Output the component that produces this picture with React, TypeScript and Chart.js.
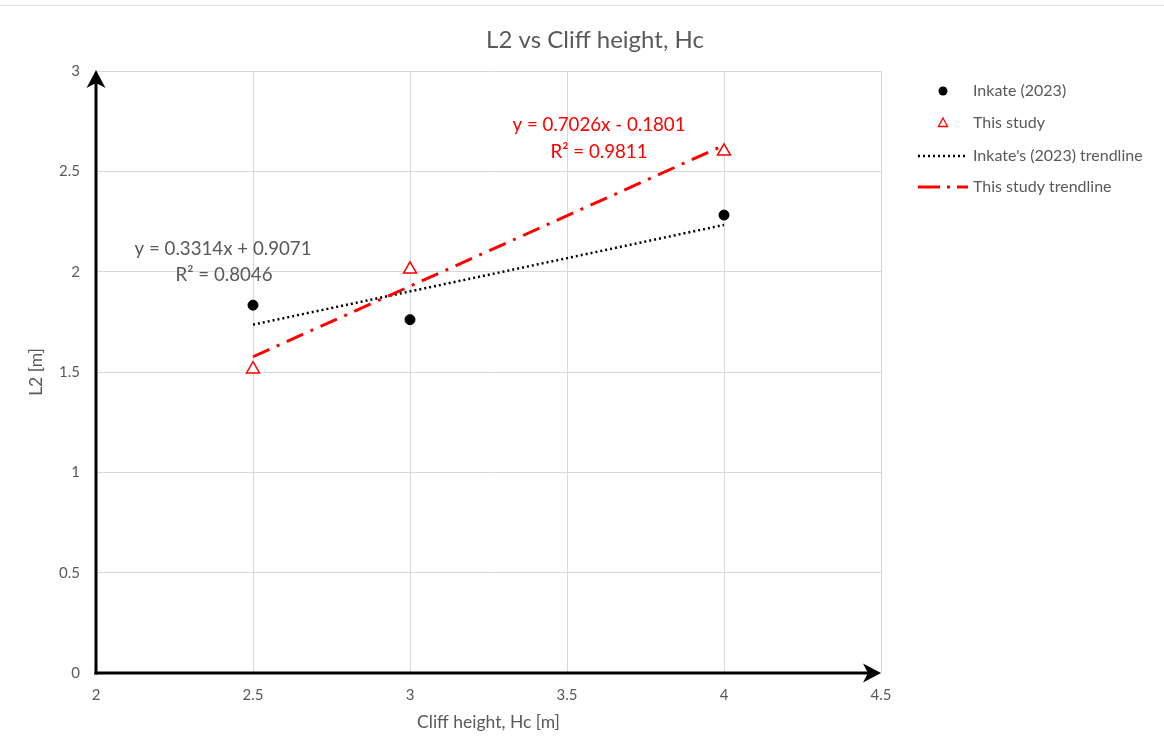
import React, { useEffect, useRef } from "react";
import { Chart, registerables } from "chart.js";

Chart.register(...registerables);

const inkateX = [2.5, 3, 4];
const inkateY = [1.833, 1.761, 2.282];
const studyX = [2.5, 3, 4];
const studyY = [1.514, 2.012, 2.6];
const inkateTrendX = [2.5, 4];
const inkateTrendY = [1.736, 2.233];
const studyTrendX = [2.5, 4];
const studyTrendY = [1.576, 2.63];

const titleText = "L2 vs Cliff height, Hc";
const xTitle = "Cliff height, Hc [m]";
const yTitle = "L2 [m]";
const legendLabels = ["Inkate (2023)", "This study", "Inkate's (2023) trendline", "This study trendline"];
const inkateEq = ["y = 0.3314x + 0.9071", "R² = 0.8046"];
const studyEq = ["y = 0.7026x - 0.1801", "R² = 0.9811"];

const FONT = "Lato, 'Open Sans', sans-serif";
const GRAY = "#595959";

function pts(xs: number[], ys: number[]) {
  return xs.map((x, i) => ({ x, y: ys[i] }));
}

function arrowHead(ctx: CanvasRenderingContext2D, tipX: number, tipY: number, dir: "up" | "right") {
  ctx.save();
  ctx.translate(tipX, tipY);
  if (dir === "right") ctx.rotate(Math.PI / 2);
  ctx.beginPath();
  ctx.moveTo(0, 0);
  ctx.lineTo(9.5, 18);
  ctx.lineTo(0, 13);
  ctx.lineTo(-9.5, 18);
  ctx.closePath();
  ctx.fillStyle = "#000";
  ctx.fill();
  ctx.restore();
}

const overlay = {
  id: "overlay",
  beforeDraw(chart: any) {
    const ctx = chart.ctx;
    ctx.save();
    ctx.fillStyle = "#fff";
    ctx.fillRect(0, 0, chart.width, chart.height);
    ctx.strokeStyle = "#e3e3e3";
    ctx.lineWidth = 1;
    ctx.beginPath();
    ctx.moveTo(0, 5.5);
    ctx.lineTo(chart.width, 5.5);
    ctx.stroke();
    ctx.restore();
  },
  afterDatasetsDraw(chart: any) {
    const ctx = chart.ctx;
    const xs = chart.scales.x;
    const ys = chart.scales.y;
    const ox = xs.getPixelForValue(2);
    const oy = ys.getPixelForValue(0);
    const xEnd = xs.getPixelForValue(4.5);
    const yEnd = ys.getPixelForValue(3);
    ctx.save();
    ctx.strokeStyle = "#000";
    ctx.lineWidth = 3;
    ctx.beginPath();
    ctx.moveTo(ox, oy + 1.5);
    ctx.lineTo(ox, yEnd + 12);
    ctx.stroke();
    ctx.beginPath();
    ctx.moveTo(ox - 1.5, oy);
    ctx.lineTo(xEnd - 12, oy);
    ctx.stroke();
    arrowHead(ctx, ox, yEnd - 1, "up");
    arrowHead(ctx, xEnd, oy, "right");

    ctx.fillStyle = GRAY;
    ctx.textAlign = "center";
    ctx.textBaseline = "middle";
    ctx.font = `24px ${FONT}`;
    ctx.fillText(titleText, 595, 40);

    ctx.font = `18.7px ${FONT}`;
    ctx.fillStyle = GRAY;
    ctx.fillText(inkateEq[0], 223, 249);
    ctx.fillText(inkateEq[1], 224, 275);
    ctx.fillStyle = "#ff0000";
    ctx.fillText(studyEq[0], 599, 125);
    ctx.fillText(studyEq[1], 599, 152);

    ctx.font = `16px ${FONT}`;
    ctx.textAlign = "left";
    ctx.fillStyle = GRAY;
    const rows = [91, 123, 156, 187];
    const tx = 973;
    legendLabels.forEach((t, i) => ctx.fillText(t, tx, rows[i]));
    ctx.fillStyle = "#000";
    ctx.beginPath();
    ctx.arc(943, rows[0], 4.5, 0, Math.PI * 2);
    ctx.fill();
    ctx.strokeStyle = "#ff0000";
    ctx.lineWidth = 1.3;
    ctx.beginPath();
    ctx.moveTo(943, rows[1] - 5);
    ctx.lineTo(947.5, rows[1] + 3.5);
    ctx.lineTo(938.5, rows[1] + 3.5);
    ctx.closePath();
    ctx.stroke();
    ctx.strokeStyle = "#000";
    ctx.lineWidth = 2.5;
    ctx.setLineDash([2, 3]);
    ctx.beginPath();
    ctx.moveTo(918, rows[2]);
    ctx.lineTo(968, rows[2]);
    ctx.stroke();
    ctx.strokeStyle = "#ff0000";
    ctx.lineWidth = 3;
    ctx.setLineDash([22, 7, 3, 7]);
    ctx.beginPath();
    ctx.moveTo(918, rows[3]);
    ctx.lineTo(968, rows[3]);
    ctx.stroke();
    ctx.restore();
  },
};

const fmt = (v: any) => String(Number(v));

export default function App() {
  const ref = useRef<HTMLCanvasElement | null>(null);
  useEffect(() => {
    document.body.style.margin = "0";
    const canvas = ref.current!;
    const chart = new Chart(canvas, {
      type: "scatter",
      data: {
        datasets: [
          {
            type: "line",
            label: legendLabels[2],
            data: pts(inkateTrendX, inkateTrendY),
            borderColor: "#000",
            borderWidth: 2.5,
            borderDash: [2, 3],
            pointRadius: 0,
            fill: false,
            order: 3,
          },
          {
            type: "line",
            label: legendLabels[3],
            data: pts(studyTrendX, studyTrendY),
            borderColor: "#ff0000",
            borderWidth: 3,
            borderDash: [18, 8, 3, 8],
            pointRadius: 0,
            fill: false,
            order: 2,
          },
          {
            label: legendLabels[0],
            data: pts(inkateX, inkateY),
            backgroundColor: "#000",
            borderColor: "#000",
            pointRadius: 5,
            pointStyle: "circle",
            order: 1,
          },
          {
            label: legendLabels[1],
            data: pts(studyX, studyY),
            backgroundColor: "#fff",
            borderColor: "#ff0000",
            borderWidth: 1.5,
            pointRadius: 7.5,
            pointStyle: "triangle",
            order: 0,
          },
        ],
      } as any,
      options: {
        responsive: false,
        animation: false,
        layout: { padding: { left: 22, right: 283, top: 71, bottom: 18 } },
        plugins: {
          legend: { display: false },
          tooltip: { enabled: false },
          title: { display: false },
        },
        scales: {
          x: {
            type: "linear",
            min: 2,
            max: 4.5,
            afterFit: (s: any) => {
              s.height = 64;
            },
            ticks: {
              stepSize: 0.5,
              color: GRAY,
              font: { family: FONT, size: 15 },
              padding: 13,
              callback: fmt,
            },
            grid: { color: "#d9d9d9", drawTicks: false, lineWidth: 1 },
            border: { display: false },
            title: {
              display: true,
              text: xTitle,
              color: GRAY,
              font: { family: FONT, size: 17.5 },
            },
          },
          y: {
            type: "linear",
            min: 0,
            max: 3,
            afterFit: (s: any) => {
              s.width = 74;
            },
            ticks: {
              stepSize: 0.5,
              color: GRAY,
              font: { family: FONT, size: 15 },
              padding: 16,
              callback: fmt,
            },
            grid: { color: "#d9d9d9", drawTicks: false, lineWidth: 1 },
            border: { display: false },
            title: {
              display: true,
              text: yTitle,
              color: GRAY,
              font: { family: FONT, size: 17.5 },
            },
          },
        },
      } as any,
      plugins: [overlay],
    });
    return () => chart.destroy();
  }, []);
  return <canvas ref={ref} width={1164} height={755} style={{ display: "block" }} />;
}
